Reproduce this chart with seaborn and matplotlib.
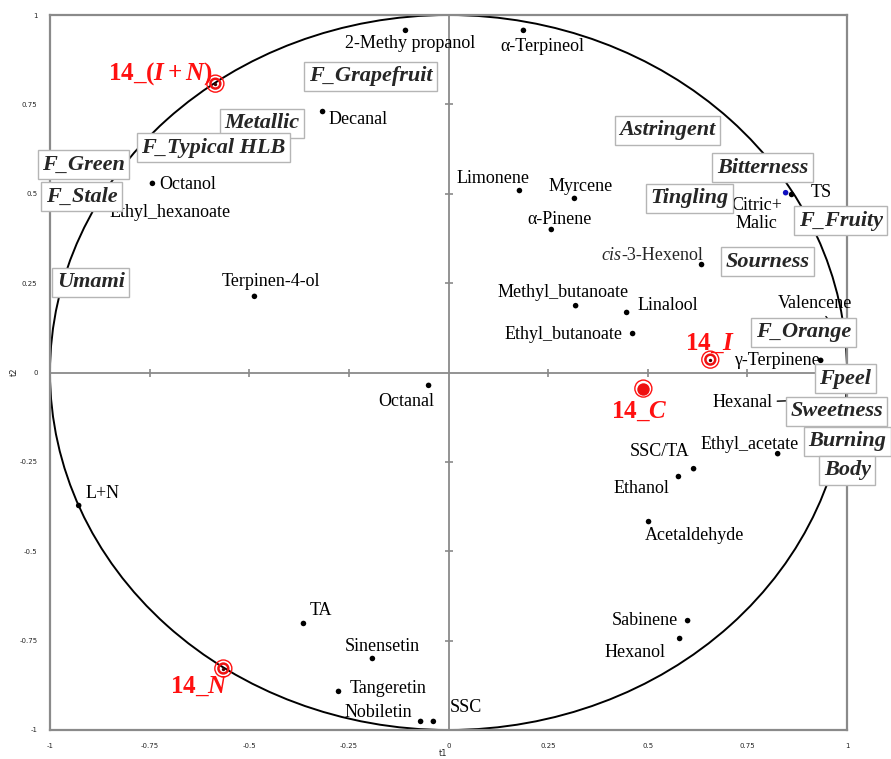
import numpy as np
import pandas as pd
import matplotlib
matplotlib.use("Agg")
import matplotlib.pyplot as plt
from matplotlib.patches import Circle
import seaborn as sns

# ---------------- data ----------------
var_names = ["2-Methy propanol", "α-Terpineol", "Decanal", "Octanol", "Ethyl_hexanoate",
             "Terpinen-4-ol", "Limonene", "Myrcene", "α-Pinene", "cis-3-Hexenol",
             "Methyl_butanoate", "Linalool", "Ethyl_butanoate", "γ-Terpinene", "TS",
             "Citric+\nMalic", "Valencene", "Hexanal", "Ethyl_acetate", "SSC/TA", "Ethanol",
             "Acetaldehyde", "Sabinene", "Hexanol", "SSC", "Nobiletin", "Tangeretin",
             "Sinensetin", "TA", "L+N", "Octanal"]
var_t1 = [-0.108, 0.188, -0.316, -0.743, -0.876,
          -0.487, 0.178, 0.316, 0.258, 0.635,
          0.319, 0.447, 0.462, 0.934, 0.861,
          0.846, 0.976, 0.881, 0.826, 0.615, 0.577,
          0.502, 0.600, 0.580, -0.038, -0.070, -0.276,
          -0.191, -0.364, -0.928, -0.050]
var_t2 = [0.957, 0.957, 0.730, 0.529, 0.509,
          0.213, 0.509, 0.487, 0.400, 0.302,
          0.187, 0.168, 0.109, 0.034, 0.498,
          0.503, 0.117, -0.078, -0.227, -0.269, -0.291,
          -0.417, -0.694, -0.744, -0.976, -0.976, -0.892,
          -0.800, -0.702, -0.372, -0.036]

sample_names = ["14_$(I + N)$", "14_$I$", "14_$C$", "14_$N$"]
sample_t1 = [-0.585, 0.657, 0.489, -0.565]
sample_t2 = [0.808, 0.036, -0.045, -0.828]

sensory_names = ["F_Grapefruit", "Metallic", "F_Typical HLB", "F_Green", "F_Stale", "Umami",
                 "Astringent", "Bitterness", "Tingling", "F_Fruity", "Sourness", "F_Orange",
                 "Fpeel", "Sweetness", "Burning", "Body"]
sensory_t1 = [-0.196, -0.469, -0.590, -0.916, -0.921, -0.898,
              0.550, 0.788, 0.605, 0.984, 0.801, 0.891,
              0.996, 0.974, 1.001, 1.001]
sensory_t2 = [0.828, 0.697, 0.629, 0.582, 0.492, 0.252,
              0.677, 0.573, 0.487, 0.425, 0.310, 0.112,
              -0.017, -0.109, -0.193, -0.274]

tick_values = [-1, -0.75, -0.5, -0.25, 0, 0.25, 0.5, 0.75, 1]
tick_labels = ["-1", "-0.75", "-0.5", "-0.25", "0", "0.25", "0.5", "0.75", "1"]

# ---------------- layout (label offsets in pixels, alignment) ----------------
var_label_layout = {
    "2-Methy propanol": (5, -13, "center"),
    "α-Terpineol": (19, -16, "center"),
    "Decanal": (6, -8, "left"),
    "Octanol": (7, -1, "left"),
    "Ethyl_hexanoate": (71, -22, "center"),
    "Terpinen-4-ol": (17, 15, "center"),
    "Limonene": (-26, 12, "center"),
    "Myrcene": (6, 12, "center"),
    "α-Pinene": (8, 10, "center"),
    "cis-3-Hexenol": (-100, 9, "left"),
    "Methyl_butanoate": (-13, 13, "center"),
    "Linalool": (11, 7, "left"),
    "Ethyl_butanoate": (-10, -1, "right"),
    "γ-Terpinene": (-1, 0, "right"),
    "TS": (30, 2, "center"),
    "Citric+\nMalic": (-29, -22, "center"),
    "Valencene": (-22, 27, "center"),
    "Hexanal": (-27, -2, "right"),
    "Ethyl_acetate": (-28, 9, "center"),
    "SSC/TA": (-34, 17, "center"),
    "Ethanol": (-37, -12, "center"),
    "Acetaldehyde": (46, -14, "center"),
    "Sabinene": (-10, 0, "right"),
    "Hexanol": (-45, -14, "center"),
    "SSC": (16, 14, "left"),
    "Nobiletin": (-42, 9, "center"),
    "Tangeretin": (11, 3, "left"),
    "Sinensetin": (10, 12, "center"),
    "TA": (17, 13, "center"),
    "L+N": (24, 12, "center"),
    "Octanal": (-22, -16, "center"),
}
leader_names = ["Valencene", "Hexanal"]
sample_label_layout = [(-2, 10, "right"), (0, 16, "center"), (-4, -23, "center"), (-24, -18, "center")]

# ---------------- style ----------------
sns.set_style("white")
plt.rcParams["font.family"] = ["Liberation Serif", "DejaVu Serif"]
plt.rcParams["mathtext.fontset"] = "custom"
plt.rcParams["mathtext.it"] = "Liberation Serif:italic:bold"
plt.rcParams["mathtext.rm"] = "Liberation Serif:bold"
plt.rcParams["mathtext.bf"] = "Liberation Serif:bold"

W, H = 891, 759
fig = plt.figure(figsize=(W / 100, H / 100), dpi=100)
ax = fig.add_axes([50 / W, (H - 730) / H, 797 / W, 715 / H])
ax.set_xlim(-1, 1)
ax.set_ylim(-1, 1)

grey = "#8a8a8a"
for s in ax.spines.values():
    s.set_color(grey)
    s.set_linewidth(1.6)

ax.axhline(0, color=grey, lw=1.3, zorder=1)
ax.axvline(0, color=grey, lw=1.3, zorder=1)
inner_ticks = [t for t in tick_values if t not in (-1, 0, 1)]
ax.plot(inner_ticks, [0] * len(inner_ticks), ls="none", marker="|", ms=6, mew=1.2, color=grey, zorder=1)
ax.plot([0] * len(inner_ticks), inner_ticks, ls="none", marker="_", ms=6, mew=1.2, color=grey, zorder=1)

ax.add_patch(Circle((0, 0), 1, fill=False, ec="black", lw=1.4, zorder=2))

# variable points
df_var = pd.DataFrame({"t1": var_t1, "t2": var_t2, "name": var_names})
dot_colors = ["#1010c0" if n.startswith("Citric") else "black" for n in var_names]
sns.scatterplot(data=df_var, x="t1", y="t2", ax=ax, color="black", s=16, linewidth=0,
                zorder=3, legend=False)
ax.collections[-1].set_facecolor(dot_colors)

FS = 13
for n, x, y in zip(var_names, var_t1, var_t2):
    dx, dy, ha = var_label_layout[n]
    if n == "cis-3-Hexenol":
        t_cis = ax.annotate("cis", (x, y), xytext=(dx, dy), textcoords="offset pixels",
                            ha=ha, va="center", fontsize=FS, style="italic", zorder=4)
        ax.annotate("-3-Hexenol", xy=(1, 0), xycoords=t_cis, xytext=(0, 0),
                    textcoords="offset pixels", ha="left", va="bottom", fontsize=FS, zorder=4)
        continue
    kw = {}
    if n in leader_names:
        kw["arrowprops"] = dict(arrowstyle="-", color="black", lw=1.0, shrinkA=1, shrinkB=0)
    ax.annotate(n, (x, y), xytext=(dx, dy), textcoords="offset pixels", ha=ha, va="center",
                fontsize=FS, color="black", zorder=4, linespacing=1.1,
                annotation_clip=False, **kw)

# samples
red = "#ff1010"
df_s = pd.DataFrame({"t1": sample_t1, "t2": sample_t2})
sns.scatterplot(data=df_s, x="t1", y="t2", ax=ax, s=150, facecolor="none", edgecolor=red,
                linewidth=1.0, zorder=5, legend=False)
df_ring = df_s.drop(index=2)
sns.scatterplot(data=df_ring, x="t1", y="t2", ax=ax, s=50, facecolor="none", edgecolor="#ee1111",
                linewidth=1.8, zorder=5, legend=False)
sns.scatterplot(data=df_ring, x="t1", y="t2", ax=ax, s=6, color="#440000", linewidth=0,
                zorder=6, legend=False)
sns.scatterplot(data=df_s.iloc[[2]], x="t1", y="t2", ax=ax, s=80, color="#ee1111", linewidth=0,
                zorder=6, legend=False)
for n, x, y, (dx, dy, ha) in zip(sample_names, sample_t1, sample_t2, sample_label_layout):
    ax.annotate(n, (x, y), xytext=(dx, dy), textcoords="offset pixels", ha=ha, va="center",
                fontsize=18, color=red, fontweight="bold", zorder=7, annotation_clip=False)

# sensory attributes (boxed)
for n, x, y in zip(sensory_names, sensory_t1, sensory_t2):
    ax.text(x, y, n, ha="center", va="center", fontsize=16, fontweight="bold", style="italic",
            zorder=8, clip_on=False,
            bbox=dict(boxstyle="square,pad=0.2", fc="white", ec="#b5b5b5", lw=1.0))

# axes ticks and labels
ax.set_xticks(tick_values)
ax.set_xticklabels(tick_labels)
ax.set_yticks(tick_values)
ax.set_yticklabels(tick_labels)
ax.tick_params(length=0, labelsize=5, pad=9)
for lab in ax.get_xticklabels() + ax.get_yticklabels():
    lab.set_fontfamily("DejaVu Sans")
ax.set_xlabel("")
ax.set_ylabel("")
fig.text(443 / W, 1 - 754 / H, "t1", fontsize=6, ha="center", va="center", family="DejaVu Sans")
fig.text(14 / W, 1 - 372 / H, "t2", fontsize=6, ha="center", va="center", rotation=90, family="DejaVu Sans")

fig.savefig("out.png", dpi=100)
